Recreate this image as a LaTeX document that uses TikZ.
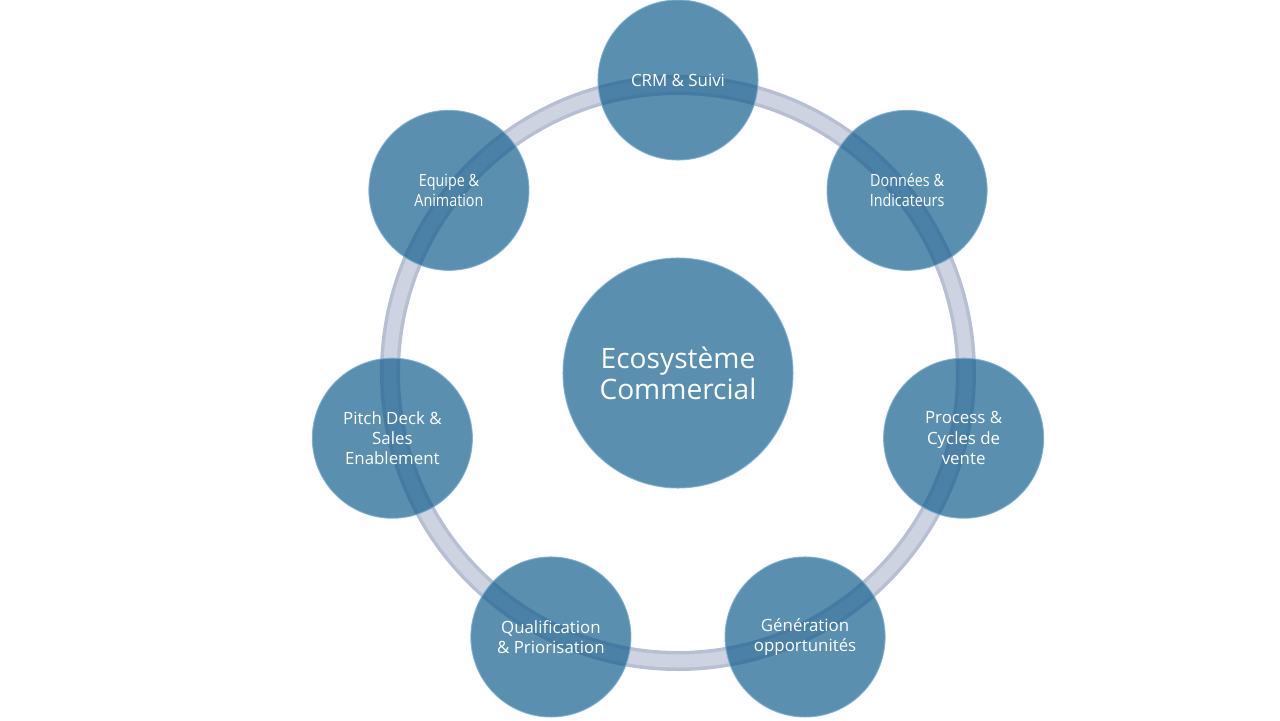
\documentclass[tikz,border=0pt]{standalone}
\usepackage{fontspec}
\setmainfont{Open Sans}
\usepackage{xcolor}
\definecolor{colorBubble}{RGB}{21,95,142}
\definecolor{colorRim}{RGB}{120,172,206}
\definecolor{colorRing}{RGB}{184,191,210}
\definecolor{colorRingLight}{RGB}{206,211,226}
\usetikzlibrary{positioning}
\tikzset{
  bubble/.style={circle, fill=colorBubble, fill opacity=0.7, draw=colorRim, draw opacity=0.8,
    line width=0.6pt, text=white, text opacity=1, align=center, inner sep=0pt},
  satellite/.style={bubble, minimum size=3.2cm, font=\fontsize{9.6}{11.6}\selectfont},
  hub/.style={bubble, minimum size=4.6cm, font=\fontsize{16}{17.6}\selectfont}
}

\begin{document}
\begin{tikzpicture}
\useasboundingbox (-13.56,-6.94) rectangle (12.04,7.46);
% ring behind the bubbles
\draw[colorRing, line width=0.4cm] (0,0) circle (5.76);
\draw[colorRingLight, line width=0.26cm] (0,0) circle (5.76);
\node[hub] (eco) at (0,0) {Ecosystème\\Commercial};
\node[satellite] (crm) at (90:5.86) {CRM \& Suivi};
\node[satellite] (data) at (38.57:5.86) {\scalebox{0.85}[1]{Données \&}\\\scalebox{0.85}[1]{Indicateurs}};
\node[satellite] (process) at (-12.86:5.86) {Process \&\\Cycles de\\vente};
\node[satellite] (gen) at (-64.29:5.86) {Génération\\opportunités};
\node[satellite] (qualif) at (244.29:5.86) {Qualification\\\& Priorisation};
\node[satellite] (pitch) at (192.86:5.86) {Pitch Deck \&\\Sales\\Enablement};
\node[satellite] (team) at (141.43:5.86) {\scalebox{0.85}[1]{Equipe \&}\\\scalebox{0.85}[1]{Animation}};
\end{tikzpicture}
\end{document}
